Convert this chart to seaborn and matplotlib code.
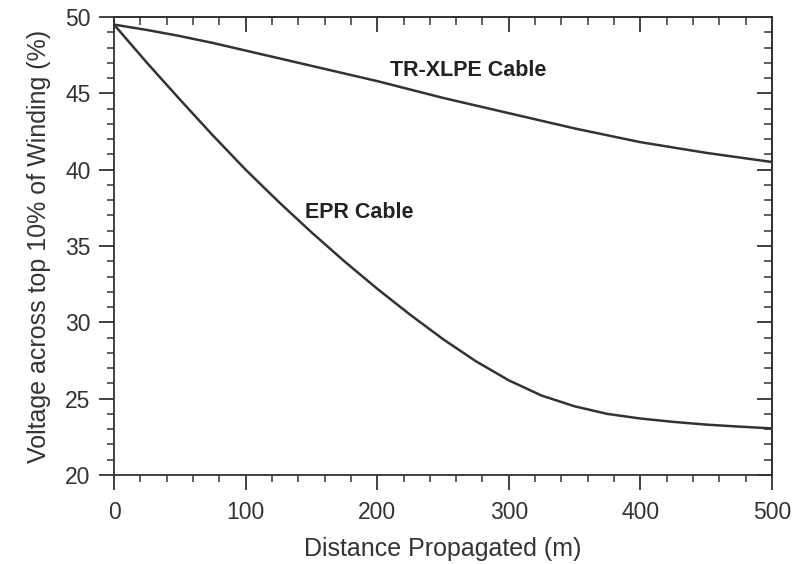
import matplotlib
matplotlib.use("Agg")
import matplotlib.pyplot as plt
from matplotlib.ticker import MultipleLocator
import seaborn as sns
import pandas as pd

sns.set_style("ticks")
plt.rcParams['font.family'] = ['Liberation Sans', 'DejaVu Sans']

# values
distance = [0, 25, 50, 75, 100, 125, 150, 175, 200, 225, 250,
            275, 300, 325, 350, 375, 400, 425, 450, 475, 500]
tr_xlpe = [49.5, 49.15, 48.75, 48.3, 47.8, 47.3, 46.8, 46.3, 45.8, 45.25, 44.7,
           44.2, 43.7, 43.2, 42.7, 42.25, 41.8, 41.45, 41.1, 40.8, 40.5]
epr = [49.5, 47.0, 44.6, 42.25, 40.0, 37.9, 35.9, 34.0, 32.2, 30.5, 28.9,
       27.45, 26.2, 25.2, 24.5, 24.0, 23.7, 23.48, 23.3, 23.17, 23.05]

df = pd.DataFrame({"distance": distance * 2,
                   "voltage": tr_xlpe + epr,
                   "cable": ["TR-XLPE Cable"] * len(distance) + ["EPR Cable"] * len(distance)})

ink = "#333333"
fig = plt.figure(figsize=(7.98, 5.64), dpi=100)
ax = fig.add_axes([0.1429, 0.1578, 0.8245, 0.8121])
sns.lineplot(data=df, x="distance", y="voltage", units="cable", estimator=None,
             color=ink, lw=1.8, ax=ax, legend=False)

ax.set_xlim(0, 500)
ax.set_ylim(20, 50)
ax.xaxis.set_major_locator(MultipleLocator(100))
ax.xaxis.set_minor_locator(MultipleLocator(20))
ax.yaxis.set_major_locator(MultipleLocator(5))
ax.yaxis.set_minor_locator(MultipleLocator(1))
ax.tick_params(which="major", direction="out", length=11, width=1.3, color=ink,
               labelsize=16.5, labelcolor=ink, pad=6)
ax.tick_params(axis="x", which="major", pad=8)
ax.tick_params(which="minor", direction="out", length=5, width=1.1, color=ink)

# mirrored ticks on top and right pointing inwards
top = ax.secondary_xaxis("top")
top.xaxis.set_major_locator(MultipleLocator(100))
top.xaxis.set_minor_locator(MultipleLocator(20))
top.tick_params(which="major", direction="in", length=11, width=1.3, color=ink, labeltop=False)
top.tick_params(which="minor", direction="in", length=6, width=1.1, color=ink)
right = ax.secondary_yaxis("right")
right.yaxis.set_major_locator(MultipleLocator(5))
right.yaxis.set_minor_locator(MultipleLocator(1))
right.tick_params(which="major", direction="in", length=11, width=1.3, color=ink, labelright=False)
right.tick_params(which="minor", direction="in", length=6, width=1.1, color=ink)

for s in ax.spines.values():
    s.set_color(ink)
    s.set_linewidth(1.3)
top.spines["top"].set_color(ink)
top.spines["top"].set_linewidth(1.3)
right.spines["right"].set_color(ink)
right.spines["right"].set_linewidth(1.3)

ax.set_xlabel("Distance Propagated (m)", fontsize=18, color=ink, labelpad=9)
ax.set_ylabel("Voltage across top 10% of Winding (%)", fontsize=18, color=ink, labelpad=10)

ax.text(210, 46.5, "TR-XLPE Cable", fontsize=15.5, fontweight="bold", color="#222222", va="center")
ax.text(145, 37.2, "EPR Cable", fontsize=15.5, fontweight="bold", color="#222222", va="center")

fig.savefig("out.png", dpi=100)
